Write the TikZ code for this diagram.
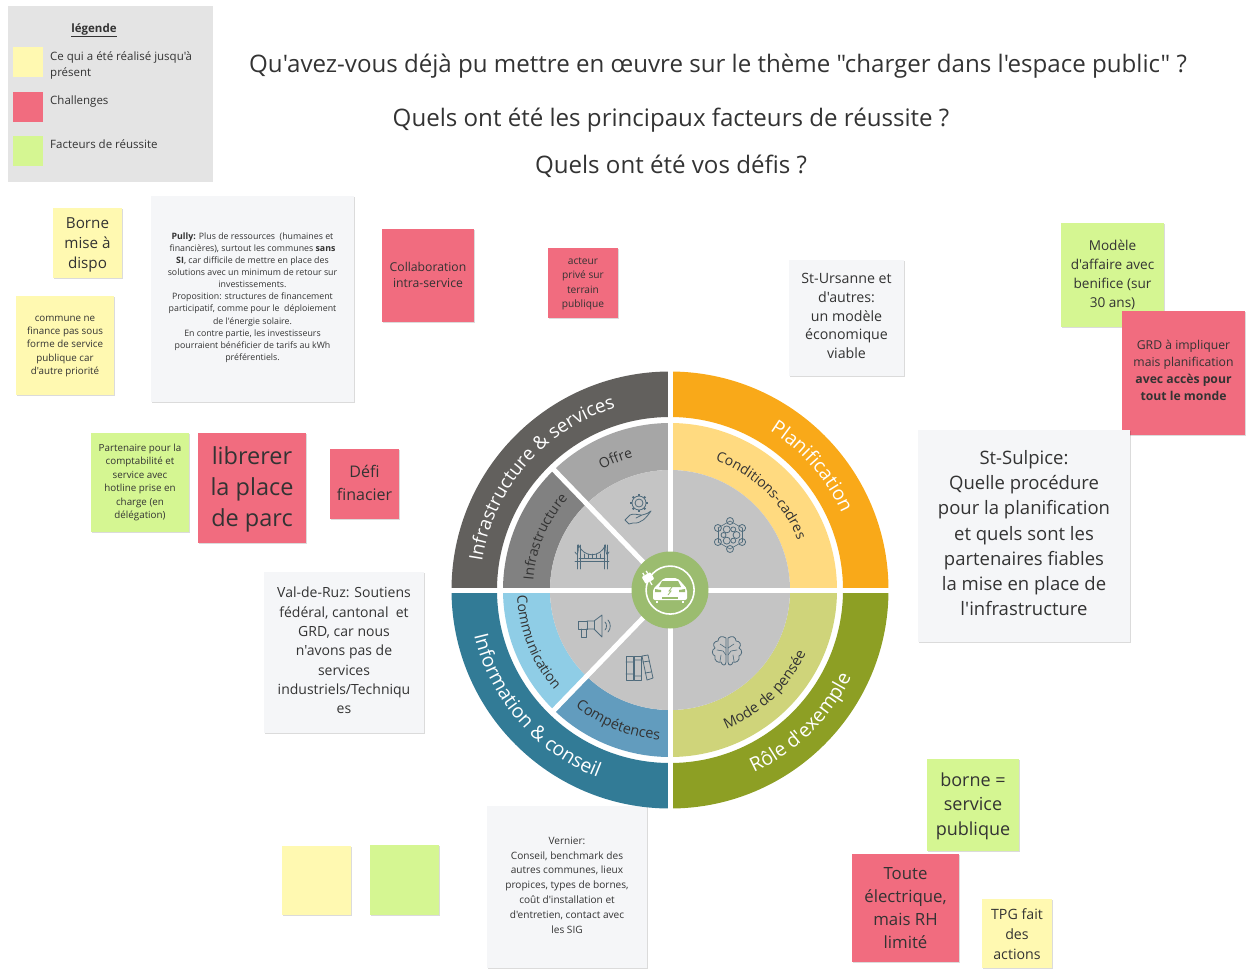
\documentclass[tikz,border=0pt]{standalone}
\usepackage{fontspec}
\setmainfont{Open Sans}[Ligatures=TeXOff]
\usetikzlibrary{positioning,shadows,decorations.text}
\definecolor{noteyellow}{HTML}{FFF9B1}
\definecolor{notered}{HTML}{F16C7F}
\definecolor{notegreen}{HTML}{D5F692}
\definecolor{notegray}{HTML}{F5F6F8}
\definecolor{legendgray}{HTML}{E4E4E4}
\definecolor{inktext}{HTML}{333333}
\definecolor{bandgray}{HTML}{62605D}
\definecolor{bandorange}{HTML}{F9A919}
\definecolor{bandteal}{HTML}{327B96}
\definecolor{bandolive}{HTML}{8D9F24}
\definecolor{ringoffre}{HTML}{A6A6A6}
\definecolor{ringinfra}{HTML}{818181}
\definecolor{ringcomm}{HTML}{8FCDE6}
\definecolor{ringcomp}{HTML}{629CBE}
\definecolor{ringcond}{HTML}{FFDA80}
\definecolor{ringmode}{HTML}{CFD47A}
\definecolor{hubgray}{HTML}{C4C4C4}
\definecolor{hubgreen}{HTML}{9BBC6F}
\definecolor{iconblue}{HTML}{4F6B7C}
\newcommand{\wheelsector}[5]{\fill[#1] (#4:#2) arc[start angle=#4,end angle=#5,radius=#2] -- (#5:#3) arc[start angle=#5,end angle=#4,radius=#3] -- cycle;}
\newcommand{\wheellabel}[6]{\path[decorate,decoration={text along path,text align=center,text={|\fontsize{#1}{#1}\selectfont\color{#2}|#6}}] (#4:#3) arc[start angle=#4,end angle=#5,radius=#3];}
\newcommand{\headgap}[1]{\rule{0pt}{#1pt}}
\newcommand{\tailgap}[1]{\rule[-#1pt]{0pt}{#1pt}}
\begin{document}
\begin{tikzpicture}[
    x=1pt, y=-1pt,
    fs/.style 2 args={font=\fontsize{#1}{#2}\selectfont},
    sized/.style 2 args={minimum width=#1pt, minimum height=#2pt},
    note/.style={rectangle, align=center, inner sep=0pt, text=inktext, drop shadow={shadow xshift=0.6pt, shadow yshift=-1.2pt, fill=black, opacity=0.14}},
    yellownote/.style={note, fill=noteyellow},
    rednote/.style={note, fill=notered},
    greennote/.style={note, fill=notegreen},
    graynote/.style={note, fill=notegray},
    swatch/.style={rectangle, inner sep=0pt, minimum width=30pt, minimum height=30pt},
    legendtext/.style={align=left, anchor=west, inner sep=0pt, text=inktext, fs={11.5}{16}},
    titletext/.style={inner sep=0pt, text=inktext, fs={24.1}{30}},
    icon/.style={draw=iconblue, line width=0.8pt, line join=round, line cap=round}
  ]
    \useasboundingbox (0,0) rectangle (1249,969);

    \node[rectangle, fill=legendgray, inner sep=0pt, sized={205}{176}] (legendbox) at (110.5,94) {};
    \node[inner sep=0pt, text=inktext, fs={11.5}{14}] (legendtitle) at (94,30) {\underline{\textbf{légende}}};
    \node[swatch, fill=noteyellow] (swatchyellow) at (28,62) {};
    \node[swatch, fill=notered] (swatchred) at (28,106.5) {};
    \node[swatch, fill=notegreen] (swatchgreen) at (28,151) {};
    \node[legendtext] (legendrealise) at (50,65) {Ce qui a été réalisé jusqu'à\\présent};
    \node[legendtext] (legendchallenge) at (50,102) {Challenges};
    \node[legendtext] (legendfacteur) at (50,144) {Facteurs de réussite};

    \node[titletext] (titleone) at (718,66.5) {Qu'avez-vous déjà pu mettre en œuvre sur le thème "charger dans l'espace public" ?};
    \node[titletext] (titletwo) at (671,120) {Quels ont été les principaux facteurs de réussite ?};
    \node[titletext] (titlethree) at (671,166.5) {Quels ont été vos défis ?};

    \node[yellownote, sized={69}{70}, fs={15.2}{20}] (borne) at (87.5,243) {\headgap{15}Borne\\mise à\\dispo};
    \node[yellownote, sized={98}{99}, fs={9.8}{13.2}] (commune) at (65,345.5) {\headgap{7.3}commune ne\\finance pas sous\\forme de service\\publique car\\d'autre priorité};
    \node[graynote, sized={203}{206}, fs={8.8}{12.15}] (pully) at (252.5,299) {\textbf{Pully:} Plus de ressources ~(humaines et\\financières), surtout les communes \textbf{sans}\\\textbf{SI}, car difficile de mettre en place des\\solutions avec un minimum de retour sur\\investissements.\\Proposition: structures de financement\\participatif, comme pour le ~déploiement\\de l'énergie solaire.\\En contre partie, les investisseurs\\pourraient bénéficier de tarifs au kWh\\préférentiels.\tailgap{5}};
    \node[rednote, sized={92}{93}, fs={12.2}{16.2}] (collab) at (428,275.5) {Collaboration\\intra-service\tailgap{2}};
    \node[rednote, sized={70}{70}, fs={10.2}{14.6}] (acteur) at (583,283) {\headgap{8.6}acteur\\privé sur\\terrain\\publique};
    \node[graynote, sized={115}{116}, fs={14.2}{18.8}] (ursanne) at (846.5,318) {St-Ursanne et\\d'autres:\\un modèle\\économique\\viable\tailgap{4}};
    \node[greennote, sized={103}{104}, fs={13.6}{18.8}] (modele) at (1112.5,275) {Modèle\\d'affaire avec\\benifice (sur\\30 ans)};
    \node[rednote, sized={123}{124}, fs={12.2}{17}] (grd) at (1183.5,373) {GRD à impliquer\\mais planification\\\textbf{avec accès pour}\\\textbf{tout le monde}\tailgap{5}};
    \node[graynote, sized={212}{212}, fs={18.5}{25.3}] (sulpice) at (1024,536) {St-Sulpice:\\Quelle procédure\\pour la planification\\et quels sont les\\partenaires fiables\\la mise en place de\\l'infrastructure\tailgap{6}};
    \node[greennote, sized={98}{99}, fs={9.8}{13.4}] (partenaire) at (140,482.5) {Partenaire pour la\\comptabilité et\\service avec\\hotline prise en\\charge (en\\délégation)};
    \node[rednote, sized={108}{110}, fs={23.5}{31}] (librerer) at (252,488) {\headgap{20}librerer\\la place\\de parc};
    \node[rednote, sized={69}{70}, fs={16}{23}] (defi) at (364.5,484) {Défi\\finacier\tailgap{2}};
    \node[graynote, sized={160}{161}, fs={14}{19.3}] (valruz) at (344,652.5) {Val-de-Ruz: Soutiens\\fédéral, cantonal ~et\\GRD, car nous\\n'avons pas de\\services\\industriels/Techniqu\\es\tailgap{4}};
    \node[graynote, sized={160}{162}, fs={10.1}{14.85}] (vernier) at (567,887) {Vernier:\\Conseil, benchmark des\\autres communes, lieux\\propices, types de bornes,\\coût d'installation et\\d'entretien, contact avec\\les SIG\tailgap{4}};
    \node[yellownote, sized={69}{69}] (videyellow) at (316.5,880.5) {};
    \node[greennote, sized={69}{70}] (videgreen) at (404.5,880) {};
    \node[greennote, sized={92}{92}, fs={18}{24.5}] (service) at (973,805) {\headgap{15.7}borne =\\service\\publique};
    \node[rednote, sized={107}{108}, fs={16.8}{23}] (toute) at (905.5,908) {Toute\\électrique,\\mais RH\\limité};
    \node[yellownote, sized={70}{69}, fs={14.2}{20}] (tpg) at (1017,933.5) {\headgap{12.1}TPG fait\\des\\actions};

    \begin{scope}[shift={(670,590)}, y=1pt]
      \wheelsector{bandorange}{218.5}{173}{0}{90}
      \wheelsector{bandgray}{218.5}{173}{90}{180}
      \wheelsector{bandteal}{218.5}{173}{180}{270}
      \wheelsector{bandolive}{218.5}{173}{270}{360}
      \wheelsector{ringcond}{167}{120}{0}{90}
      \wheelsector{ringoffre}{167}{120}{90}{134}
      \wheelsector{ringinfra}{167}{120}{134}{180}
      \wheelsector{ringcomm}{167}{120}{180}{226}
      \wheelsector{ringcomp}{167}{120}{226}{270}
      \wheelsector{ringmode}{167}{120}{270}{360}
      \fill[hubgray] (0,0) circle[radius=120];
      \draw[white, line width=5pt] (-219.5,0) -- (219.5,0);
      \draw[white, line width=5pt] (0,-219.5) -- (0,219.5);
      \draw[white, line width=5pt] (134:172) -- (0,0) -- (226:172);
      \fill[hubgreen] (0,0) circle[radius=38.5];

      \wheellabel{19.4}{white}{188}{81}{1}{Planification}
      \wheellabel{18.8}{white}{190}{179}{99}{Infrastructure {\&} services}
      \wheellabel{19.5}{white}{201}{181}{261}{Information {\&} conseil}
      \wheellabel{19.5}{white}{201}{274.5}{354.5}{Rôle d'exemple}
      \wheellabel{14}{inktext}{138}{137}{88}{Offre}
      \wheellabel{14}{inktext}{137}{190}{124}{Infrastructure}
      \wheellabel{14}{inktext}{137}{88}{4}{Conditions-cadres}
      \wheellabel{14}{inktext}{153}{171}{232}{Communication}
      \wheellabel{14.4}{inktext}{150}{222}{275}{Compétences}
      \wheellabel{14.5}{inktext}{150}{272}{355}{Mode de pensée}

      \begin{scope}[shift={(-31,87)}]
        \draw[icon] (0,0) circle[radius=4];
        \draw[icon] (0,0) circle[radius=7];
        \foreach \a in {0,45,...,315} \draw[icon, line width=1.8pt, line cap=butt] (\a:7) -- (\a:9);
        \draw[icon] (-14,-17) -- (-9,-12) .. controls (-5,-10) and (-2,-12) .. (3,-12) -- (-3,-15) (3,-12) .. controls (7,-11) and (10,-10) .. (12,-8) .. controls (7,-15) and (2,-21) .. (-6,-20) -- (-10,-21) -- (-14,-17);
      \end{scope}

      \begin{scope}[shift={(-78,33)}]
        \draw[icon] (-15,-12) -- (-15,12) (-12,-12) -- (-12,12) (12,-12) -- (12,12) (15,-12) -- (15,12);
        \draw[icon] (-17,-4) -- (17,-4) (-13,-1) -- (13,-1);
        \draw[icon] (-17,5) .. controls (-15,2) and (-14,0) .. (-13.5,12);
        \draw[icon] (-13.5,12) .. controls (-8,-1) and (8,-1) .. (13.5,12);
        \draw[icon] (17,5) .. controls (15,2) and (14,0) .. (13.5,12);
        \foreach \x in {-8,-4,0,4,8} \draw[icon, line width=0.6pt] (\x,-1) -- (\x,3);
      \end{scope}

      \begin{scope}[shift={(60,55)}]
        \foreach \a in {30,90,...,330} \draw[icon] (\a:14) circle[radius=3.5];
        \foreach \a in {0,120,240} \draw[icon] (\a:6.5) circle[radius=3.5];
        \foreach \a in {60,180,300} \draw[icon] (\a:6.5) circle[radius=2.5];
        \foreach \a in {30,90,...,330} \draw[icon, line width=0.6pt] (\a:14) -- (\a+60:14);
      \end{scope}

      \begin{scope}[shift={(57,-62)}]
        \draw[icon] (-1,14) .. controls (-5,17) and (-9,15) .. (-9,11) .. controls (-13,11) and (-15,7) .. (-12,4) .. controls (-16,2) and (-15,-3) .. (-12,-4) .. controls (-13,-9) and (-9,-11) .. (-6,-10) .. controls (-5,-14) and (-1,-14) .. (-1,-10) -- cycle;
        \draw[icon] (1,14) .. controls (5,17) and (9,15) .. (9,11) .. controls (13,11) and (15,7) .. (12,4) .. controls (16,2) and (15,-3) .. (12,-4) .. controls (13,-9) and (9,-11) .. (6,-10) .. controls (5,-14) and (1,-14) .. (1,-10) -- cycle;
        \draw[icon, line width=0.6pt] (-1,4) -- (-7,8) (-10,2) -- (-4,1) -- (-1,-3) (-7,-9) -- (-6,-3) (1,4) -- (7,8) (10,2) -- (4,1) -- (1,-3) (7,-9) -- (6,-3);
      \end{scope}

      \begin{scope}[shift={(-75,-36)}]
        \draw[icon] (-17,5) rectangle (-8,-3);
        \draw[icon] (-8,5) -- (-1,5) -- (7,11) -- (7,-11) -- (-1,-3) -- (-8,-3);
        \draw[icon] (-1,5) -- (-1,-3) (-14,-3) -- (-14,-11) -- (-9,-11) -- (-9,-3);
        \draw[icon] (10,4) .. controls (12,2) and (12,-2) .. (10,-4);
        \draw[icon] (13,6) .. controls (16,3) and (16,-3) .. (13,-6);
      \end{scope}

      \begin{scope}[shift={(-31,-78)}]
        \draw[icon] (-13,12) rectangle (-6,-12);
        \draw[icon] (-5,12) rectangle (2,-12);
        \draw[icon] (3,12) -- (9,13) -- (14,-10) -- (8,-12) -- cycle;
        \draw[icon] (-13,6) -- (-6,6) (-13,-6) -- (-6,-6) (-5,8) -- (2,8) (-5,-8) -- (2,-8) (3.7,6) -- (10.5,7) (6,-5) -- (12,-4);
      \end{scope}

      \draw[white, line width=1.6pt] (-20,13) arc[start angle=147,end angle=-200,radius=24];
      \fill[white, rounded corners=2pt] (-17,-10) -- (-17,1) -- (-12,6) -- (-6,12) -- (7,12) -- (13,6) -- (17,1) -- (17,-10) -- cycle;
      \draw[white, line width=2.6pt] (-13,-11) -- (-13,-13) (13,-11) -- (13,-13);
      \fill[hubgreen] (-8,9) -- (8,9) -- (11,3) -- (-11,3) -- cycle;
      \fill[hubgreen] (-15,1) -- (-9,0) -- (-9,-2) -- (-15,-2) -- cycle;
      \fill[hubgreen] (15,1) -- (9,0) -- (9,-2) -- (15,-2) -- cycle;
      \fill[hubgreen] (-8,-7) rectangle (8,-8.5);
      \draw[hubgreen, line width=0.8pt] (2,3) -- (-1,-1) -- (1,-1) -- (-2,-5);
      \begin{scope}[shift={(-22,12)}, rotate=30]
        \fill[white, rounded corners=1pt] (-5,-4) rectangle (5,4);
        \draw[white, line width=1.3pt] (-2,4) -- (-2,7) (2,4) -- (2,7) (0,-4) -- (0,-8);
      \end{scope}
    \end{scope}
  \end{tikzpicture}
\end{document}
